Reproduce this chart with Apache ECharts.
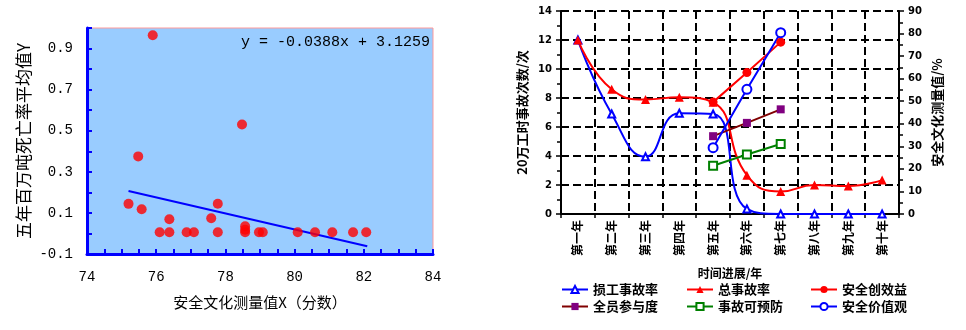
<!DOCTYPE html>
<html>
<head>
<meta charset="utf-8">
<script src="https://cdn.jsdelivr.net/npm/echarts@6/dist/echarts.min.js"></script>
<style>
html,body{margin:0;padding:0;background:#fff;}
#c{width:966px;height:330px;}
</style>
</head>
<body>
<div id="c"></div>
<script>
// ---------- Left chart data (scatter + trend line) ----------
var scatterX = [75.2, 75.48, 75.58, 75.9, 76.1, 76.38, 76.38, 76.88, 77.09, 77.59, 77.78, 77.78, 78.48, 78.57, 78.57, 78.57, 78.97, 79.08, 80.09, 80.59, 81.09, 81.69, 82.07];
var scatterY = [0.144, 0.375, 0.118, 0.965, 0.006, 0.069, 0.006, 0.006, 0.006, 0.074, 0.145, 0.006, 0.530, 0.035, 0.018, 0.006, 0.006, 0.006, 0.006, 0.006, 0.006, 0.006, 0.006];
var trendX = [75.2, 82.1];
var trendY = [0.207, -0.062];
var equationText = 'y = -0.0388x + 3.1259';
var leftYLabels = ['-0.1', '0.1', '0.3', '0.5', '0.7', '0.9'];
var leftXLabels = ['74', '76', '78', '80', '82', '84'];

// ---------- Right chart data ----------
var years = ['第一年', '第二年', '第三年', '第四年', '第五年', '第六年', '第七年', '第八年', '第九年', '第十年'];
var lostTimeRate = [12, 6.9, 3.95, 6.95, 6.9, 0.35, 0, 0, 0, 0];
var totalRate = [12, 8.6, 7.9, 8.05, 7.7, 2.68, 1.55, 2.0, 1.93, 2.34];
var safetyBenefit = [null, null, null, null, 49.6, 62.7, 76.2, null, null, null];
var participation = [null, null, null, null, 34.5, 40.4, 46.4, null, null, null];
var preventable = [null, null, null, null, 21.4, 26.4, 31.0, null, null, null];
var safetyValues = [null, null, null, null, 29.4, 55.3, 80.4, null, null, null];
var seriesNames = ['损工事故率', '总事故率', '安全创效益', '全员参与度', '事故可预防', '安全价值观'];

function zip(a, b) { return a.map(function (v, i) { return [v, b[i]]; }); }

var monoFont = '"Liberation Mono", "DejaVu Sans Mono", monospace';
var cjk = '"Noto Sans CJK SC", sans-serif';
var boldNum = '"DejaVu Sans", sans-serif';

var chart = echarts.init(document.getElementById('c'));

var legendPos = [[561, 283], [686, 283], [810, 283], [561, 300], [686, 300], [810, 300]];
var legends = seriesNames.map(function (n, i) {
  return {
    data: [n], left: legendPos[i][0], top: legendPos[i][1],
    itemWidth: 26, itemHeight: 9, itemGap: 4, padding: 0,
    textStyle: { fontFamily: cjk, fontWeight: 'bold', fontSize: 13, color: '#000' }
  };
});

var option = {
  animation: false,
  legend: legends,
  graphic: [{
    type: 'text', right: 536, top: 35,
    style: { text: equationText, font: '15px ' + monoFont, fill: '#000' },
    z: 100
  }],
  grid: [
    { left: 87, top: 28, width: 346, height: 226, show: true, backgroundColor: '#99CCFF', borderColor: '#FF9999', borderWidth: 1 },
    { left: 561, top: 11, width: 338, height: 203 }
  ],
  xAxis: [
    {
      gridIndex: 0, type: 'value', min: 74, max: 84, interval: 0.5,
      name: '安全文化测量值X（分数）', nameLocation: 'middle', nameGap: 41,
      nameTextStyle: { fontFamily: cjk, fontSize: 15, color: '#000' },
      axisLine: { show: true, onZero: false, lineStyle: { color: '#0000FF', width: 3 } },
      axisTick: { show: true, inside: true, length: 5, lineStyle: { color: '#0000FF', width: 2 } },
      axisLabel: {
        margin: 16, color: '#000', fontFamily: monoFont, fontSize: 14,
        formatter: function (v) { var s = String(Math.round(v * 10) / 10); return leftXLabels.indexOf(s) >= 0 ? s : ''; }
      },
      splitLine: { show: false }
    },
    {
      gridIndex: 1, type: 'category', data: years, boundaryGap: true,
      name: '时间进展/年', nameLocation: 'middle', nameGap: 53,
      nameTextStyle: { fontFamily: cjk, fontSize: 12, fontWeight: 'bold', color: '#000' },
      axisLine: { show: true, lineStyle: { color: '#000', width: 2 } },
      axisTick: { show: true, length: 4, interval: 0, lineStyle: { color: '#000', width: 1.5 } },
      axisLabel: { rotate: 90, margin: 6, interval: 0, color: '#000', fontFamily: cjk, fontWeight: 'bold', fontSize: 12 },
      splitLine: { show: true, interval: 0, lineStyle: { color: '#000', width: 2, type: 'dashed' } }
    }
  ],
  yAxis: [
    {
      gridIndex: 0, type: 'value', min: -0.1, max: 1.0, interval: 0.1,
      name: '五年百万吨死亡率平均值Y', nameLocation: 'middle', nameGap: 55,
      nameTextStyle: { fontFamily: cjk, fontSize: 17, color: '#000' },
      axisLine: { show: true, onZero: false, lineStyle: { color: '#0000FF', width: 3 } },
      axisTick: { show: true, inside: true, length: 5, lineStyle: { color: '#0000FF', width: 2 } },
      axisLabel: {
        margin: 14, color: '#000', fontFamily: monoFont, fontSize: 14,
        formatter: function (v) { var s = (Math.round(v * 10) / 10).toFixed(1); return leftYLabels.indexOf(s) >= 0 ? s : ''; }
      },
      splitLine: { show: false }
    },
    {
      gridIndex: 1, type: 'value', min: 0, max: 14, interval: 2,
      name: '20万工时事故次数/次', nameLocation: 'middle', nameGap: 32,
      nameTextStyle: { fontFamily: cjk, fontSize: 13, fontWeight: 'bold', color: '#000' },
      axisLine: { show: true, lineStyle: { color: '#000', width: 2 } },
      axisTick: { show: true, length: 5, lineStyle: { color: '#000', width: 1.5 } },
      minorTick: { show: true, splitNumber: 2, length: 4, lineStyle: { color: '#000', width: 1.5 } },
      axisLabel: { margin: 9, color: '#000', fontFamily: boldNum, fontWeight: 'bold', fontSize: 10 },
      splitLine: { show: true, lineStyle: { color: '#000', width: 2, type: 'dashed' } }
    },
    {
      gridIndex: 1, type: 'value', min: 0, max: 90, interval: 10, position: 'right',
      name: '安全文化测量值/%', nameLocation: 'middle', nameGap: 32,
      nameTextStyle: { fontFamily: cjk, fontSize: 13, fontWeight: 'bold', color: '#000' },
      axisLine: { show: true, lineStyle: { color: '#000', width: 2 } },
      axisTick: { show: true, length: 5, lineStyle: { color: '#000', width: 1.5 } },
      minorTick: { show: true, splitNumber: 2, length: 4, lineStyle: { color: '#000', width: 1.5 } },
      axisLabel: { margin: 9, color: '#000', fontFamily: boldNum, fontWeight: 'bold', fontSize: 10 },
      splitLine: { show: false }
    }
  ],
  series: [
    {
      type: 'scatter', xAxisIndex: 0, yAxisIndex: 0, data: zip(scatterX, scatterY),
      symbol: 'circle', symbolSize: 10, itemStyle: { color: '#FF0000' }, z: 3
    },
    {
      type: 'line', xAxisIndex: 0, yAxisIndex: 0, data: zip(trendX, trendY),
      symbol: 'none', lineStyle: { color: '#0000FF', width: 2 }, z: 2
    },
    {
      name: seriesNames[0], type: 'line', xAxisIndex: 1, yAxisIndex: 1, data: lostTimeRate,
      smooth: 0.5, clip: false, symbol: 'emptyTriangle', symbolSize: 7,
      lineStyle: { color: '#0000FF', width: 2 }, itemStyle: { color: '#0000FF', borderWidth: 1 }
    },
    {
      name: seriesNames[1], type: 'line', xAxisIndex: 1, yAxisIndex: 1, data: totalRate,
      smooth: 0.5, symbol: 'triangle', symbolSize: 9,
      lineStyle: { color: '#FF0000', width: 2 }, itemStyle: { color: '#FF0000' }
    },
    {
      name: seriesNames[2], type: 'line', xAxisIndex: 1, yAxisIndex: 2, data: safetyBenefit,
      symbol: 'circle', symbolSize: 9,
      lineStyle: { color: '#FF0000', width: 2 }, itemStyle: { color: '#FF0000' }
    },
    {
      name: seriesNames[3], type: 'line', xAxisIndex: 1, yAxisIndex: 2, data: participation,
      symbol: 'rect', symbolSize: 8,
      lineStyle: { color: '#800000', width: 2 }, itemStyle: { color: '#800080' }
    },
    {
      name: seriesNames[4], type: 'line', xAxisIndex: 1, yAxisIndex: 2, data: preventable,
      symbol: 'emptyRect', symbolSize: 8,
      lineStyle: { color: '#008000', width: 2 }, itemStyle: { color: '#008000', borderWidth: 1.2 }
    },
    {
      name: seriesNames[5], type: 'line', xAxisIndex: 1, yAxisIndex: 2, data: safetyValues,
      symbol: 'emptyCircle', symbolSize: 9,
      lineStyle: { color: '#0000FF', width: 2 }, itemStyle: { color: '#0000FF', borderWidth: 1.2 }
    }
  ]
};
chart.setOption(option);
</script>
</body>
</html>
